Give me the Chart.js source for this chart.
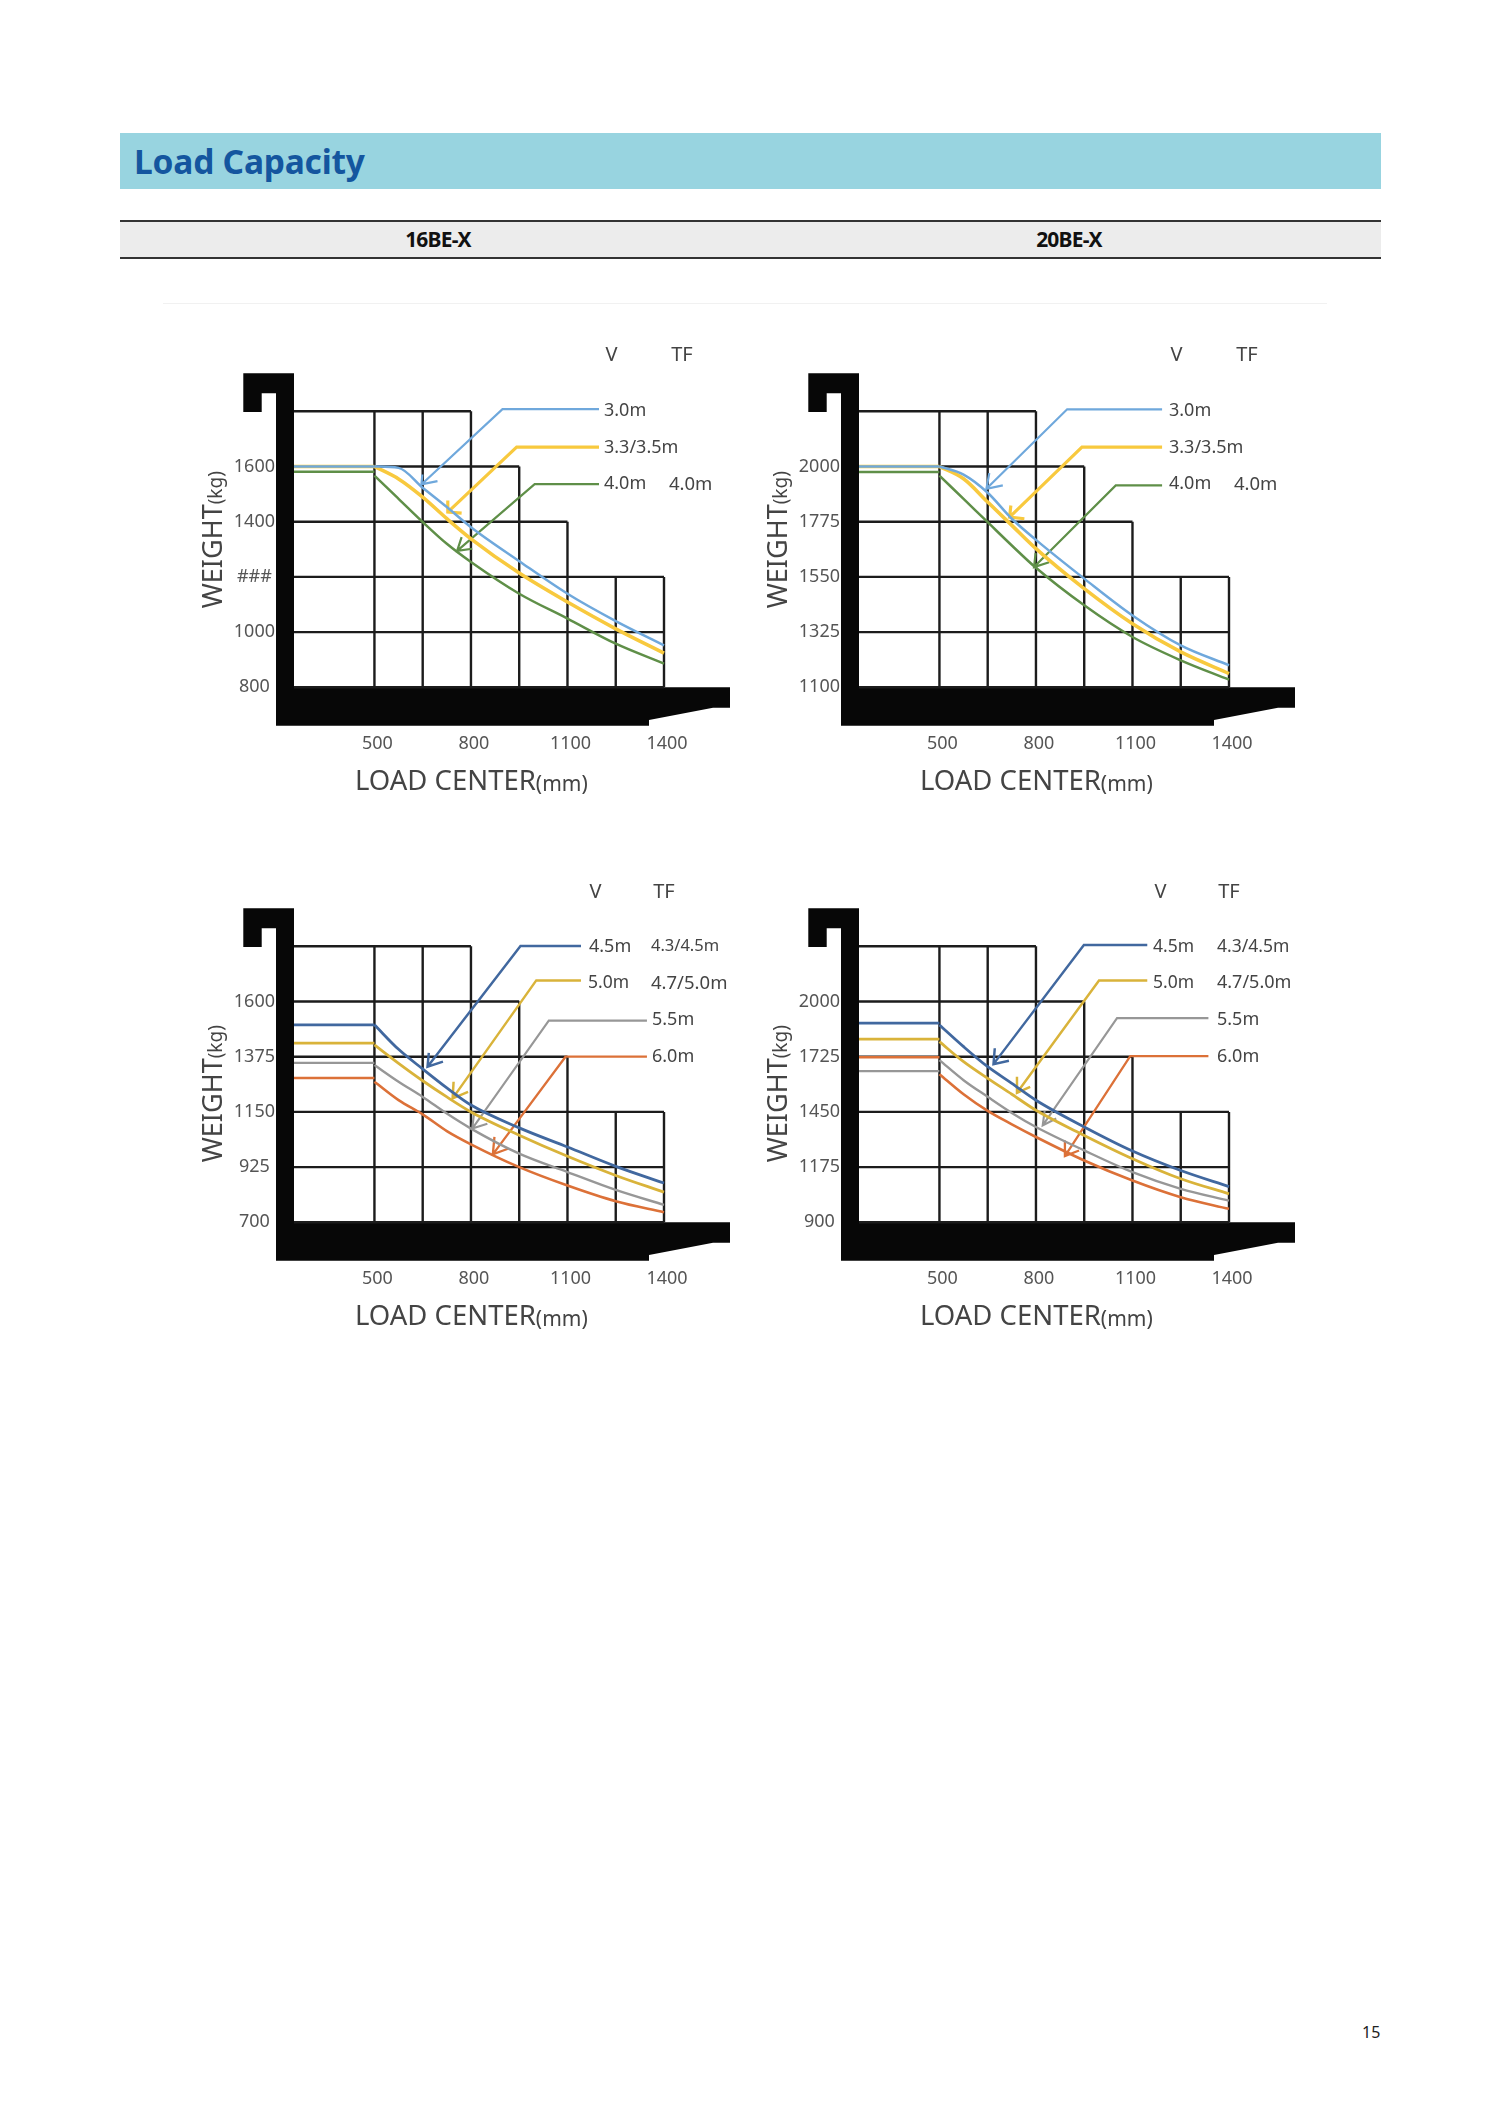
<!DOCTYPE html>
<html>
<head>
<meta charset="utf-8">
<title>Load Capacity</title>
<script src="https://cdn.jsdelivr.net/npm/chart.js@4/dist/chart.umd.min.js"></script>
<style>
  html, body { margin: 0; padding: 0; background: #fff; }
  body { position: relative; width: 1488px; height: 2105px; overflow: hidden; font-family: "Noto Sans", sans-serif; }
  .band { position: absolute; left: 120px; width: 1261px; top: 133px; height: 56px; background: #98d4e0; }
  .band span { position: absolute; left: 14px; top: 5px; font: bold 33.5px/46px "Noto Sans", sans-serif; color: #14569f; letter-spacing: -0.2px; }
  .models { position: absolute; left: 120px; width: 1261px; top: 220px; height: 39px; background: #ececec;
            border-top: 2px solid #333; border-bottom: 2px solid #333; box-sizing: border-box; }
  .models span { position: absolute; top: 0; width: 200px; margin-left: -100px; text-align: center;
                 font: bold 21px/35px "Noto Sans", sans-serif; color: #111; letter-spacing: -0.8px; }
  .rule { position: absolute; left: 163px; width: 1164px; top: 303px; height: 1px; background: #f1f1f1; }
  .page { position: absolute; left: 1362px; top: 2021px; font: 16px/22px "Noto Sans", sans-serif; color: #222; }
  .chart { position: absolute; width: 560px; height: 480px; }
</style>
</head>
<body>
<div class="band"><span>Load Capacity</span></div>
<div class="models"><span style="left:318px">16BE-X</span><span style="left:949px">20BE-X</span></div>
<div class="rule"></div>
<div class="chart" style="left:190px;top:330px"><canvas id="c16low"></canvas></div>
<div class="chart" style="left:754.5px;top:330px"><canvas id="c20low"></canvas></div>
<div class="chart" style="left:190px;top:864.5px"><canvas id="c16high"></canvas></div>
<div class="chart" style="left:754.5px;top:864.5px"><canvas id="c20high"></canvas></div>
<div class="page">15</div>

<script>
// shared x values (load center, mm)
const curveX = [500, 575, 650, 725, 800, 950, 1100, 1250, 1400];
const xTickValues = [500, 800, 1100, 1400];
const gridCols = [500, 650, 800, 950, 1100, 1250, 1400];
// last load center reached by each grid row, bottom row first (top row is the extra step)
const rowReach = [1400, 1400, 1400, 1100, 950, 800];
// row index each column rises to
const colRise = [5, 5, 5, 4, 3, 2, 2];

// 16BE-X, low masts
const yTicks16Low = [800, 1000, 1200, 1400, 1600, 1800];
const yLabels16Low = ['800', '1000', '###', '1400', '1600'];
const flat16Low = [1600, 1600, 1581];
const curve16Low30 = [1600, 1595, 1523, 1453, 1380, 1257, 1139, 1040, 952];
const curve16Low35 = [1600, 1555, 1489, 1411, 1338, 1214, 1109, 1012, 924];
const curve16Low40 = [1567, 1483, 1399, 1320, 1254, 1139, 1049, 958, 886];
const leader16Low30 = [[1198, 1808], [898, 1808], [646, 1535], [649, 1571], [696, 1547]];
const leader16Low35 = [[1198, 1670], [942, 1670], [728, 1435], [728, 1477], [771, 1431]];
const leader16Low40 = [[1198, 1536], [998, 1536], [757, 1294], [771, 1344], [804, 1302]];

// 20BE-X, low masts
const yTicks20Low = [1100, 1325, 1550, 1775, 2000, 2225];
const yLabels20Low = ['1100', '1325', '1550', '1775', '2000'];
const flat20Low = [2000, 2000, 1978];
const curve20Low30 = [2000, 1967, 1893, 1787, 1701, 1543, 1393, 1271, 1190];
const curve20Low35 = [2000, 1950, 1855, 1760, 1665, 1502, 1359, 1244, 1156];
const curve20Low40 = [1963, 1868, 1773, 1678, 1587, 1434, 1305, 1210, 1131];
const leader20Low30 = [[1192, 2233], [897, 2233], [646, 1909], [655, 1973], [697, 1923]];
const leader20Low35 = [[1192, 2079], [943, 2079], [718, 1794], [722, 1841], [764, 1787]];
const leader20Low40 = [[1192, 1923], [1048, 1923], [794, 1590], [799, 1647], [841, 1610]];

// 16BE-X, high masts
const yTicks16High = [700, 925, 1150, 1375, 1600, 1825];
const yLabels16High = ['700', '925', '1150', '1375', '1600'];
const flat16High = [1505, 1430, 1350, 1288];
const curve16High45 = [1505, 1405, 1325, 1248, 1178, 1085, 1007, 928, 860];
const curve16High50 = [1423, 1348, 1277, 1211, 1150, 1055, 969, 891, 823];
const curve16High55 = [1341, 1273, 1211, 1143, 1082, 980, 905, 832, 771];
const curve16High60 = [1273, 1198, 1140, 1072, 1018, 925, 850, 786, 741];
const leader16High45 = [[1142, 1826], [954, 1826], [665, 1334], [669, 1391], [713, 1355]];
const leader16High50 = [[1142, 1686], [1003, 1686], [743, 1205], [746, 1273], [791, 1232]];
const leader16High55 = [[1347, 1522], [1042, 1522], [804, 1082], [810, 1150], [851, 1102]];
const leader16High60 = [[1347, 1375], [1094, 1375], [868, 977], [873, 1048], [915, 1000]];

// 20BE-X, high masts
const yTicks20High = [900, 1175, 1450, 1725, 2000, 2275];
const yLabels20High = ['900', '1175', '1450', '1725', '2000'];
const flat20High = [1892, 1813, 1653, 1722];
const curve20High45 = [1883, 1775, 1675, 1592, 1508, 1375, 1255, 1158, 1078];
const curve20High50 = [1800, 1700, 1617, 1538, 1458, 1333, 1217, 1117, 1042];
const curve20High55 = [1708, 1608, 1525, 1445, 1375, 1258, 1150, 1067, 1008];
const curve20High60 = [1638, 1538, 1455, 1388, 1325, 1208, 1108, 1025, 967];
const leader20High45 = [[1146, 2282], [949, 2282], [668, 1688], [672, 1767], [716, 1705]];
const leader20High50 = [[1146, 2105], [996, 2105], [741, 1545], [741, 1625], [782, 1575]];
const leader20High55 = [[1336, 1917], [1052, 1917], [821, 1383], [827, 1455], [863, 1417]];
const leader20High60 = [[1336, 1728], [1093, 1728], [890, 1230], [890, 1308], [934, 1258]];

const lowColors = ['#6fa8dc', '#f8c93e', '#5f8f48'];
const lowWidths = [2.5, 3.6, 2.5];
const highColors = ['#41689f', '#d9b33a', '#979797', '#dc7138'];
const highWidths = [2.8, 2.8, 2.4, 2.6];

// text next to the leaders: [text, px from plot left, px from plot top, font px]
const notesLow = [
  ['3.0m', 310, 0, 18], ['3.3/3.5m', 310, 37, 18], ['4.0m', 310, 73, 18], ['4.0m', 375, 73, 18.5]
];
const notesHigh16 = [
  ['4.5m', 295, 1, 18], ['4.3/4.5m', 357, 0, 16.5], ['5.0m', 294, 37, 17.5], ['4.7/5.0m', 357, 37, 18.5],
  ['5.5m', 358, 74, 18], ['6.0m', 358, 111, 18]
];
const notesHigh20 = [
  ['4.5m', 294, 1, 17.5], ['4.3/4.5m', 358, 1, 17.5], ['5.0m', 294, 37, 17.5], ['4.7/5.0m', 358, 37, 18],
  ['5.5m', 358, 74, 18], ['6.0m', 358, 111, 18]
];
// column heads: [text, px from plot left], then px above the plot and how far the y title drops
const headLow = [['V', 317.5], ['TF', 388]];
const headHigh = [['V', 301.5], ['TF', 370]];
const headRaiseLow = 56;
const headRaiseHigh = 54;
const titleDropLow = 0;
const titleDropHigh = 19;

const textColor = '#444';

function gridPoints(yTicks) {
  const pts = [];
  rowReach.forEach((reach, i) => {
    pts.push({ x: 250, y: yTicks[i] }, { x: reach, y: yTicks[i] }, { x: null, y: null });
  });
  gridCols.forEach((col, i) => {
    pts.push({ x: col, y: yTicks[0] }, { x: col, y: yTicks[colRise[i]] }, { x: null, y: null });
  });
  return pts;
}

function leaderPoints(leader) {
  const [start, elbow, tip, barbA, barbB] = leader.map(p => ({ x: p[0], y: p[1] }));
  return [start, elbow, tip, { x: null, y: null }, barbA, tip, barbB];
}

function buildDatasets(yTicks, flats, curves, leaders, colors, widths) {
  const sets = [];
  curves.forEach((curve, i) => {
    const base = { borderColor: colors[i], borderWidth: widths[i], pointRadius: 0, showLine: true, clip: false, order: 1 };
    sets.push({ ...base, data: leaderPoints(leaders[i]), borderWidth: widths[i] * 0.88 });
    sets.push({ ...base, data: [{ x: 250, y: flats[i] }, { x: 500, y: flats[i] }] });
    sets.push({
      ...base,
      cubicInterpolationMode: 'monotone',
      data: curveX.map((x, j) => ({ x: x, y: curve[j] }))
    });
  });
  sets.push({
    data: gridPoints(yTicks), borderColor: '#1c1c1c', borderWidth: 2.4, pointRadius: 0,
    showLine: true, spanGaps: false, clip: false, order: 2
  });
  return sets;
}

// fork silhouette and the loose text around each plot
const forkPlugin = {
  id: 'fork',
  beforeDatasetsDraw(chart) {
    const { ctx, chartArea: a } = chart;
    const L = a.left, B = a.bottom;
    ctx.save();
    ctx.fillStyle = '#070707';
    ctx.beginPath();
    ctx.moveTo(L - 50.7, B - 314);
    ctx.lineTo(L, B - 314);
    ctx.lineTo(L, B);
    ctx.lineTo(L + 436, B);
    ctx.lineTo(L + 436, B + 20.4);
    ctx.lineTo(L + 419, B + 20.4);
    ctx.lineTo(L + 355, B + 32.7);
    ctx.lineTo(L + 355, B + 38.4);
    ctx.lineTo(L - 18, B + 38.4);
    ctx.lineTo(L - 18, B - 294);
    ctx.lineTo(L - 32.3, B - 294);
    ctx.lineTo(L - 32.3, B - 275.3);
    ctx.lineTo(L - 50.7, B - 275.3);
    ctx.closePath();
    ctx.fill();
    ctx.restore();
  },
  afterDraw(chart, args, opts) {
    const { ctx, chartArea: a } = chart;
    ctx.save();
    ctx.fillStyle = textColor;
    ctx.textBaseline = 'middle';

    ctx.textAlign = 'center';
    ctx.font = '20px "Noto Sans"';
    opts.heads.forEach(h => ctx.fillText(h[0], a.left + h[1], a.top - opts.headRaise));

    ctx.textAlign = 'left';
    opts.notes.forEach(n => {
      ctx.font = n[3] + 'px "Noto Sans"';
      ctx.fillText(n[0], a.left + n[1], a.top + n[2]);
    });

    // x title
    ctx.font = '27.5px "Noto Sans"';
    const loadW = ctx.measureText('LOAD CENTER').width;
    const loadX = a.left + 61;
    ctx.fillText('LOAD CENTER', loadX, a.bottom + 95);
    ctx.font = '21px "Noto Sans"';
    ctx.fillText('(mm)', loadX + loadW, a.bottom + 98);

    // y title
    ctx.translate(a.left - 80, a.top + 127 + opts.titleDrop);
    ctx.rotate(-Math.PI / 2);
    ctx.textAlign = 'center';
    ctx.font = '27px "Noto Sans"';
    const weightW = ctx.measureText('WEIGHT').width;
    ctx.fillText('WEIGHT', -18, 0);
    ctx.textAlign = 'left';
    ctx.font = '19px "Noto Sans"';
    ctx.fillText('(kg)', -18 + weightW / 2, 3);
    ctx.restore();
  }
};

function makeChart(id, yTicks, yLabels, flats, curves, leaders, colors, widths, notes, heads, headRaise, titleDrop) {
  return new Chart(document.getElementById(id), {
    type: 'scatter',
    data: { datasets: buildDatasets(yTicks, flats, curves, leaders, colors, widths) },
    plugins: [forkPlugin],
    options: {
      responsive: true,
      maintainAspectRatio: false,
      animation: false,
      layout: { padding: { top: 81.3, right: 86, left: 0, bottom: 0 } },
      scales: {
        x: {
          type: 'linear',
          min: 250,
          max: 1400,
          grid: { display: false },
          border: { display: false },
          afterBuildTicks: scale => { scale.ticks = xTickValues.map(v => ({ value: v })); },
          afterFit: scale => { scale.height = 122.7; },
          ticks: { padding: 38, labelOffset: 3, color: '#555', autoSkip: false, maxRotation: 0, font: { family: '"Noto Sans"', size: 18 }, callback: v => String(v) }
        },
        y: {
          type: 'linear',
          min: yTicks[0],
          max: yTicks[yTicks.length - 1],
          grid: { display: false },
          border: { display: false },
          afterFit: scale => { scale.width = 104; },
          ticks: {
            stepSize: yTicks[1] - yTicks[0],
            padding: 11,
            crossAlign: 'center',
            color: '#555',
            autoSkip: false,
            font: { family: '"Noto Sans"', size: 18 },
            callback: (v, i) => yLabels[i] || ''
          }
        }
      },
      plugins: {
        legend: { display: false },
        tooltip: { enabled: false },
        fork: { notes: notes, heads: heads, headRaise: headRaise, titleDrop: titleDrop }
      }
    }
  });
}

makeChart('c16low', yTicks16Low, yLabels16Low, flat16Low,
  [curve16Low30, curve16Low35, curve16Low40], [leader16Low30, leader16Low35, leader16Low40],
  lowColors, lowWidths, notesLow, headLow, headRaiseLow, titleDropLow);
makeChart('c20low', yTicks20Low, yLabels20Low, flat20Low,
  [curve20Low30, curve20Low35, curve20Low40], [leader20Low30, leader20Low35, leader20Low40],
  lowColors, lowWidths, notesLow, headLow, headRaiseLow, titleDropLow);
makeChart('c16high', yTicks16High, yLabels16High, flat16High,
  [curve16High45, curve16High50, curve16High55, curve16High60], [leader16High45, leader16High50, leader16High55, leader16High60],
  highColors, highWidths, notesHigh16, headHigh, headRaiseHigh, titleDropHigh);
makeChart('c20high', yTicks20High, yLabels20High, flat20High,
  [curve20High45, curve20High50, curve20High55, curve20High60], [leader20High45, leader20High50, leader20High55, leader20High60],
  highColors, highWidths, notesHigh20, headHigh, headRaiseHigh, titleDropHigh);
</script>
</body>
</html>
